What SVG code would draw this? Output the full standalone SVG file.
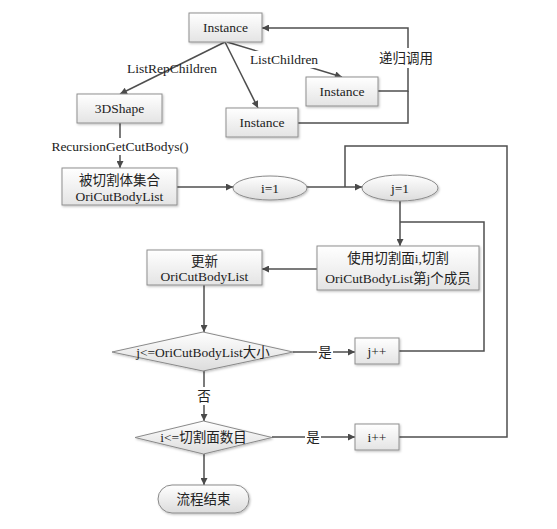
<svg xmlns="http://www.w3.org/2000/svg" width="557" height="529" viewBox="0 0 557 529">
<defs>
<linearGradient id="g" x1="0" y1="0" x2="0" y2="1">
<stop offset="0" stop-color="#ffffff"/>
<stop offset="1" stop-color="#e4e4e4"/>
</linearGradient>
<linearGradient id="ge" x1="0" y1="0" x2="0" y2="1">
<stop offset="0" stop-color="#ffffff"/>
<stop offset="1" stop-color="#dcdcdc"/>
</linearGradient>
<filter id="sh" x="-10%" y="-10%" width="130%" height="140%">
<feDropShadow dx="1" dy="1.2" stdDeviation="0.8" flood-color="#000" flood-opacity="0.25"/>
</filter>
<marker id="ar" viewBox="0 0 10 10" refX="10" refY="5" markerWidth="9" markerHeight="7" markerUnits="userSpaceOnUse" orient="auto">
<path d="M0,0 L10,5 L0,10 z" fill="#4a4a4a"/>
</marker>
</defs>
<style>
.n{fill:url(#g);stroke:#8f8f8f;stroke-width:1;filter:url(#sh)}
.e{fill:url(#ge);stroke:#8a8a8a;stroke-width:1;filter:url(#sh)}
.c{fill:none;stroke:#4f4f4f;stroke-width:1.5}
.a{marker-end:url(#ar)}
text{font-family:"Liberation Serif","Noto Sans CJK SC",serif;font-size:13.5px;fill:#222;text-anchor:middle;dominant-baseline:central}
.bg{fill:#fff}
</style>
<rect width="557" height="529" fill="#fff"/>
<g id="connectors">
<path class="c a" d="M225,42 L120,94"/>
<path class="c a" d="M225,42 L258,108"/>
<path class="c a" d="M227,42 L342,77"/>
<path class="c" d="M298,123 H408 V91"/>
<path class="c a" d="M378,91 H408 V28 H262"/>
<path class="c a" d="M120,123 V168"/>
<path class="c a" d="M177,187 H233"/>
<path class="c a" d="M307,187 H362"/>
<path class="c" d="M399,437 H507 V146 H345 V187"/>
<path class="c a" d="M400,201 V246"/>
<path class="c" d="M399,351 H484 V222 H400"/>
<path class="c a" d="M317,269 H262"/>
<path class="c a" d="M204,285 V332"/>
<path class="c a" d="M293,352 H355"/>
<path class="c a" d="M204,371 V421"/>
<path class="c a" d="M272,437 H355"/>
<path class="c a" d="M204,454 V485"/>
<text x="172" y="68">ListRepChildren</text>
<rect class="bg" x="251" y="51" width="67" height="17"/>
<text x="284" y="59">ListChildren</text>
<rect class="bg" x="376" y="48" width="60" height="20"/>
<text x="406" y="58">递归调用</text>
<rect class="bg" x="51" y="138" width="138" height="17"/>
<text x="120" y="146">RecursionGetCutBodys()</text>
<rect class="bg" x="317" y="343" width="16" height="18"/>
<text x="325" y="352">是</text>
<rect class="bg" x="196" y="387" width="16" height="18"/>
<text x="204" y="396">否</text>
<rect class="bg" x="305" y="428" width="16" height="18"/>
<text x="313" y="437">是</text>
</g>
<g id="instance-top">
<rect class="n" x="189" y="13" width="73" height="29"/>
<text x="225.5" y="27.5">Instance</text>
</g>
<g id="shape3d">
<rect class="n" x="77" y="94" width="85" height="29"/>
<text x="119.5" y="108.5">3DShape</text>
</g>
<g id="instance-bottom">
<rect class="n" x="226" y="108" width="72" height="29"/>
<text x="262" y="122.5">Instance</text>
</g>
<g id="instance-right">
<rect class="n" x="306" y="77" width="72" height="29"/>
<text x="342" y="91.5">Instance</text>
</g>
<g id="cutbodies">
<rect class="n" x="62" y="168" width="115" height="37"/>
<text x="119.5" y="180">被切割体集合</text>
<text x="119.5" y="196">OriCutBodyList</text>
</g>
<g id="i1">
<ellipse class="e" cx="270" cy="188" rx="37" ry="12"/>
<text x="270" y="188">i=1</text>
</g>
<g id="j1">
<ellipse class="e" cx="400" cy="188" rx="38" ry="13"/>
<text x="400" y="188">j=1</text>
</g>
<g id="cut">
<rect class="n" x="317" y="246" width="162" height="44"/>
<text x="398" y="258">使用切割面i,切割</text>
<text x="398" y="278">OriCutBodyList第j个成员</text>
</g>
<g id="update">
<rect class="n" x="147" y="250" width="115" height="35"/>
<text x="204.5" y="261">更新</text>
<text x="204.5" y="276">OriCutBodyList</text>
</g>
<g id="cond-j">
<polygon class="e" points="112,352 203,332 293,352 203,371"/>
<text x="203" y="352">j&lt;=OriCutBodyList大小</text>
</g>
<g id="jpp">
<rect class="n" x="355" y="338" width="44" height="26"/>
<text x="377" y="351">j++</text>
</g>
<g id="cond-i">
<polygon class="e" points="135,437.5 203.5,421 272,437.5 203.5,454"/>
<text x="203.5" y="437.5">i&lt;=切割面数目</text>
</g>
<g id="ipp">
<rect class="n" x="355" y="424" width="44" height="26"/>
<text x="377" y="437">i++</text>
</g>
<g id="end">
<rect class="e" x="158" y="485" width="91" height="28" rx="14" ry="14"/>
<text x="203.5" y="499">流程结束</text>
</g>
</svg>
